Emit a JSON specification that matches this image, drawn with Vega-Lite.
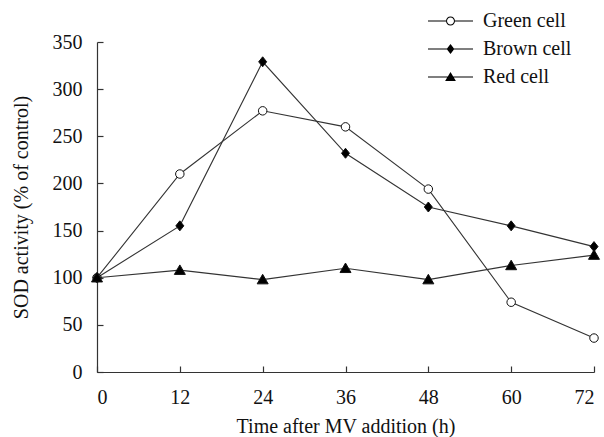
{
  "$schema": "https://vega.github.io/schema/vega-lite/v6.json",
  "width": 497,
  "height": 330,
  "autosize": {"type": "none"},
  "padding": {"left": 97, "top": 42, "right": 10, "bottom": 65},
  "config": {
    "view": {"stroke": null},
    "font": "Liberation Serif",
    "axis": {
      "grid": false,
      "domainColor": "#333",
      "domainWidth": 1.2,
      "tickColor": "#333",
      "tickWidth": 1.2,
      "tickSize": -6,
      "labelFont": "Liberation Serif",
      "labelFontSize": 20,
      "labelColor": "#111",
      "titleFont": "Liberation Serif",
      "titleFontSize": 20,
      "titleFontWeight": "normal",
      "titleColor": "#111"
    }
  },
  "data": {
    "values": [
      {"series": "Green cell", "time": 0, "sod": 100},
      {"series": "Green cell", "time": 12, "sod": 210},
      {"series": "Green cell", "time": 24, "sod": 277},
      {"series": "Green cell", "time": 36, "sod": 260},
      {"series": "Green cell", "time": 48, "sod": 194},
      {"series": "Green cell", "time": 60, "sod": 74},
      {"series": "Green cell", "time": 72, "sod": 36},
      {"series": "Brown cell", "time": 0, "sod": 100},
      {"series": "Brown cell", "time": 12, "sod": 155},
      {"series": "Brown cell", "time": 24, "sod": 329},
      {"series": "Brown cell", "time": 36, "sod": 232},
      {"series": "Brown cell", "time": 48, "sod": 175},
      {"series": "Brown cell", "time": 60, "sod": 155},
      {"series": "Brown cell", "time": 72, "sod": 133},
      {"series": "Red cell", "time": 0, "sod": 100},
      {"series": "Red cell", "time": 12, "sod": 108},
      {"series": "Red cell", "time": 24, "sod": 98},
      {"series": "Red cell", "time": 36, "sod": 110},
      {"series": "Red cell", "time": 48, "sod": 98},
      {"series": "Red cell", "time": 60, "sod": 113},
      {"series": "Red cell", "time": 72, "sod": 124}
    ]
  },
  "encoding": {
    "x": {
      "field": "time",
      "type": "quantitative",
      "scale": {"domain": [0, 72], "nice": false},
      "axis": {"values": [0, 12, 24, 36, 48, 60, 72], "title": "Time after MV addition (h)", "labelPadding": 21, "titlePadding": 9}
    },
    "y": {
      "field": "sod",
      "type": "quantitative",
      "scale": {"domain": [0, 350], "nice": false},
      "axis": {"values": [0, 50, 100, 150, 200, 250, 300, 350], "title": "SOD activity (% of control)", "labelPadding": 21, "titlePadding": 21}
    }
  },
  "layer": [
    {
      "mark": {"type": "line", "color": "#333", "strokeWidth": 1.1},
      "encoding": {"detail": {"field": "series"}}
    },
    {
      "mark": {"type": "point", "filled": true, "size": 100, "stroke": "#111", "strokeWidth": 1, "opacity": 1},
      "encoding": {
        "shape": {
          "field": "series",
          "scale": {
            "domain": ["Green cell", "Brown cell", "Red cell"],
            "range": [
              "M0.85,0A0.85,0.85,0,1,1,-0.85,0A0.85,0.85,0,1,1,0.85,0Z",
              "M0,-1L0.8,0L0,1L-0.8,0Z",
              "M0,-1.05L1.1,0.85L-1.1,0.85Z"
            ]
          },
          "legend": null
        },
        "fill": {
          "field": "series",
          "scale": {"domain": ["Green cell", "Brown cell", "Red cell"], "range": ["white", "black", "black"]},
          "legend": null
        }
      }
    },
    {
      "mark": {"type": "point", "filled": true, "opacity": 0, "strokeWidth": 0, "color": "black"},
      "encoding": {
        "shape": {
          "field": "series",
          "scale": {
            "domain": ["Green cell", "Brown cell", "Red cell"],
            "range": [
              "M-1,-0.024H-0.2V0.024H-1Z M0.2,-0.024H1V0.024H0.2Z M0.2,0A0.2,0.2,0,1,1,-0.2,0A0.2,0.2,0,1,1,0.2,0Z M0.155,0A0.155,0.155,0,1,0,-0.155,0A0.155,0.155,0,1,0,0.155,0Z",
              "M-1,-0.024H1V0.024H-1Z M0,-0.22L0.17,0L0,0.22L-0.17,0Z",
              "M-1,-0.024H1V0.024H-1Z M0,-0.22L0.24,0.18L-0.24,0.18Z"
            ]
          },
          "legend": {
            "title": null,
            "orient": "none",
            "legendX": 331,
            "legendY": -31,
            "symbolSize": 2025,
            "symbolOpacity": 1,
            "symbolFillColor": "black",
            "symbolStrokeWidth": 0,
            "labelFont": "Liberation Serif",
            "labelFontSize": 20,
            "labelColor": "#111",
            "labelOffset": 10,
            "clipHeight": 20,
            "rowPadding": 8
          }
        }
      }
    }
  ],
  "resolve": {"scale": {"shape": "independent"}}
}
